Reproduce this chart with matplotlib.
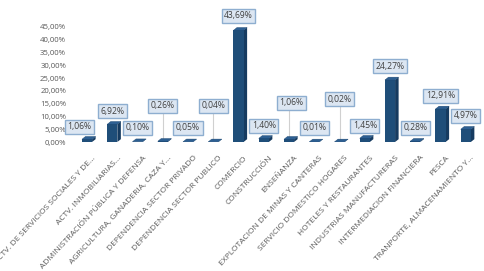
import matplotlib.pyplot as plt
from matplotlib.patches import Polygon
from matplotlib.ticker import FuncFormatter

# categorias y porcentajes
sectores = ['ACTV. DE SERVICIOS SOCIALES Y DE...', 'ACTV. INMOBILIARIAS...',
            'ADMINISTRACIÓN PÚBLICA Y DEFENSA', 'AGRICULTURA, GANADERIA, CAZA Y...',
            'DEPENDENCIA SECTOR PRIVADO', 'DEPENDENCIA SECTOR PUBLICO', 'COMERCIO',
            'CONSTRUCCIÓN', 'ENSEÑANZA', 'EXPLOTACION DE MINAS Y CANTERAS',
            'SERVICIO DOMESTICO HOGARES', 'HOTELES Y RESTAURANTES',
            'INDUSTRIAS MANUFACTURERAS', 'INTERMEDIACION FINANCIERA', 'PESCA',
            'TRANPORTE, ALMACENAMIENTO Y...']
porcentajes = [1.06, 6.92, 0.10, 0.26, 0.05, 0.04, 43.69, 1.40, 1.06, 0.01,
               0.02, 1.45, 24.27, 0.28, 12.91, 4.97]
# altura de cada etiqueta (en %)
etiqueta_y = [5.9, 12.1, 5.5, 14.1, 5.5, 14.1, 49.3, 6.3, 15.3, 5.5,
              16.8, 6.3, 29.7, 5.5, 18.0, 10.2]
etiqueta_dx = [-0.3, 0, 0, 0, 0, 0, 0, 0, 0.1, 0, 0, 0, 0, 0, 0, 0]

plt.rcParams['font.family'] = ['Open Sans', 'DejaVu Sans']

fig = plt.figure(figsize=(4.84, 2.71), dpi=100)
ax = fig.add_axes([74.4 / 484, 1 - 142 / 271, 404 / 484, 127.8 / 271])

x = list(range(len(sectores)))
w = 0.4     # ancho frontal
d = 0.14    # profundidad 3d
dy = 1.1    # desplazamiento vertical de la cara superior
ax.bar(x, porcentajes, width=w, color='#1f4e79', linewidth=0, zorder=3)
for i, v in zip(x, porcentajes):
    l, r = i - w / 2, i + w / 2
    # lado
    ax.add_patch(Polygon([(r, 0), (r + d, dy), (r + d, v + dy), (r, v)],
                         closed=True, fc='#163b60', ec='none', zorder=2))
    # tapa
    ax.add_patch(Polygon([(l, v), (l + d, v + dy), (r + d, v + dy), (r, v)],
                         closed=True, fc='#2d5f92', ec='#1a4570', lw=0.3, zorder=3))

for i in x:
    if etiqueta_y[i] - porcentajes[i] > 6:
        ax.plot([i, i], [porcentajes[i] + dy, etiqueta_y[i]], color='#d0d0d0', lw=0.8, zorder=1)
    ax.text(i + etiqueta_dx[i], etiqueta_y[i], ('%.2f%%' % porcentajes[i]).replace('.', ','),
            ha='center', va='center', fontsize=6.2, color='#404040', zorder=5,
            bbox=dict(boxstyle='square,pad=0.3', fc='#dce6f2', ec='#8eaed0', lw=1.0))

ax.set_ylim(0, 50)
ax.set_xlim(-0.5, 15.5)
ax.set_yticks(range(0, 50, 5))
ax.yaxis.set_major_formatter(FuncFormatter(lambda v, p: ('%.2f%%' % v).replace('.', ',')))
ax.set_xticks([i + 0.2 for i in x])
ax.set_xticklabels(sectores, rotation=47, ha='right', rotation_mode='anchor')
ax.tick_params(axis='y', labelsize=5.6, colors='#595959', length=0, pad=6)
ax.tick_params(axis='x', labelsize=6.0, colors='#595959', length=0, pad=9)
for s in ax.spines.values():
    s.set_visible(False)

fig.savefig('out.png', dpi=100)
